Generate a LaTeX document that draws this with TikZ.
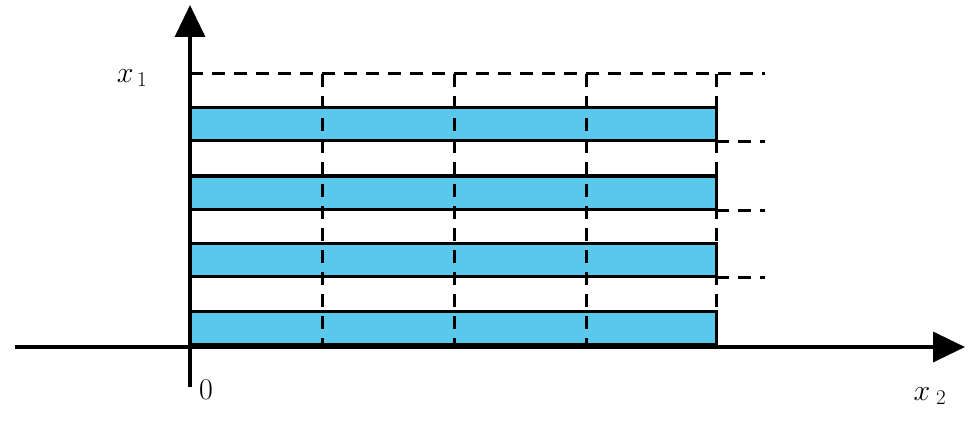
\RequirePackage{fix-cm}
\documentclass[tikz,border=0pt]{standalone}
\usepackage{anyfontsize}
\usetikzlibrary{arrows.meta}
\definecolor{stripblue}{RGB}{90,200,235}
\begin{document}
\begin{tikzpicture}[x=1pt,y=-1pt,
    axis/.style = {line width=3.5pt,-{Triangle[length=32pt,width=30pt]}},
    strip/.style = {draw=black,line width=3pt,fill=stripblue},
    grid/.style = {black,line width=3pt,dash pattern=on 13pt off 9pt},
    lbl/.style = {font=\fontsize{30}{32}\selectfont}]
  \useasboundingbox (0,0) rectangle (972,425);
  % strips
  \foreach \t/\b in {108/141,176/209,243/276,311/344}
    \draw [strip] (190,\t) rectangle (716,\b);
  % dashed grid
  \draw [grid] (190,74) -- (765,74);
  \foreach \y in {142,210,277}
    \draw [grid] (716,\y) -- (765,\y);
  \foreach \x in {322,454,586,716}
    \draw [grid] (\x,74) -- (\x,344);
  % axes
  \coordinate (xs) at (15,347);
  \coordinate (xe) at (965,347);
  \coordinate (ys) at (190,387);
  \coordinate (ye) at (190,5);
  \draw [axis] (xs) -- (xe);
  \draw [axis] (ys) -- (ye);
  \node [lbl] (xone) at (132,78) {$x_{\,1}$};
  \node [lbl] (orig) at (206,390) {$0$};
  \node [lbl] (xtwo) at (930,396) {$x_{\;2}$};
\end{tikzpicture}
\end{document}
